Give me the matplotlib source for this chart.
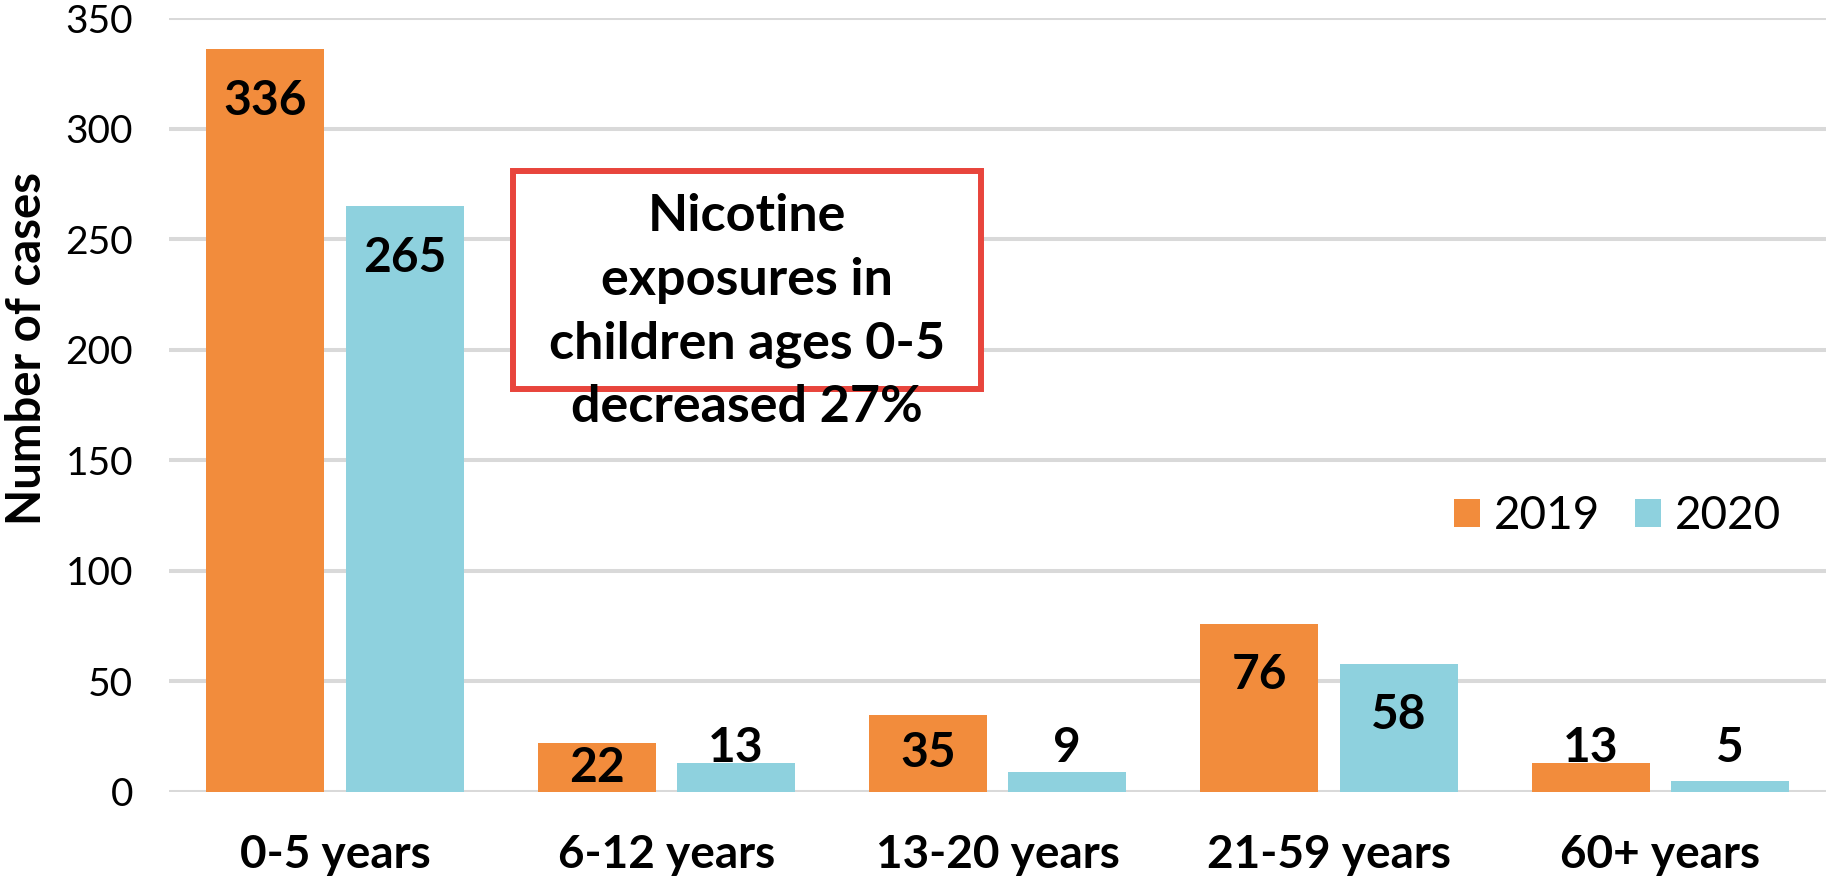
import matplotlib
matplotlib.use("Agg")
import matplotlib.pyplot as plt
from matplotlib.patches import Rectangle, Patch
import numpy as np

# Poison-center nicotine exposure cases by age group
categories = ["0-5 years", "6-12 years", "13-20 years", "21-59 years", "60+ years"]
cases_2019 = [336, 22, 35, 76, 13]
cases_2020 = [265, 13, 9, 58, 5]
series_names = ["2019", "2020"]
y_ticks = [0, 50, 100, 150, 200, 250, 300, 350]
callout_lines = ["Nicotine", "exposures in", "children ages 0-5", "decreased 27%"]

ORANGE = "#F28C3C"
BLUE = "#8ED1DE"
GRID = "#D9D9D9"
RED = "#E8453C"

plt.rcParams["font.family"] = ["Lato", "DejaVu Sans"]

fig = plt.figure(figsize=(18.26, 8.94), dpi=100)
ax = fig.add_axes([0.0927, 0.1141, 0.9073, 0.8654])

x = np.arange(len(categories))
width = 0.356
offset = 0.21
bars19 = ax.bar(x - offset, cases_2019, width, color=ORANGE, zorder=3)
bars20 = ax.bar(x + offset, cases_2020, width, color=BLUE, zorder=3)

ax.set_xlim(-0.5, len(categories) - 0.5)
ax.set_ylim(0, 350)
ax.set_yticks(y_ticks)
ax.yaxis.grid(True, color=GRID, linewidth=2.9, zorder=0)
ax.set_axisbelow(True)
for s in ax.spines.values():
    s.set_visible(False)
ax.tick_params(axis="y", length=0, pad=26, labelsize=28, labelcolor="black")
ax.set_xticks(x)
ax.set_xticklabels(categories, fontsize=33, fontweight="bold")
ax.tick_params(axis="x", length=0, pad=30)

ax.set_ylabel("Number of cases", fontsize=34, fontweight="bold", va="center")
ax.yaxis.set_label_coords(-0.086, 0.573)


def label_bars(bars, values):
    for b, v in zip(bars, values):
        cx = b.get_x() + b.get_width() / 2
        if v >= 50:
            ax.annotate(str(v), (cx, v), xytext=(0, -37), textcoords="offset points",
                        ha="center", va="center", fontsize=34.5, fontweight="bold", zorder=5)
        elif v >= 20:
            ax.text(cx, v / 2, str(v), ha="center", va="center",
                    fontsize=34.5, fontweight="bold", zorder=5)
        else:
            ax.annotate(str(v), (cx, max(v, 13)), xytext=(0, 1), textcoords="offset points",
                        ha="center", va="baseline", fontsize=34.5, fontweight="bold", zorder=5)


label_bars(bars19, cases_2019)
label_bars(bars20, cases_2020)

# Callout box; the last line of text runs below the frame
ax.add_patch(Rectangle((0.537, 182.3), 1.950 - 0.537, 280.9 - 182.3,
                       facecolor="white", edgecolor=RED, linewidth=4.3,
                       zorder=4, clip_on=False))
line_step = 45.9  # points between baselines
for i, line in enumerate(callout_lines):
    ax.annotate(line, (1.244, 253.8), xytext=(0, -line_step * i), textcoords="offset points",
                ha="center", va="baseline", fontsize=37.5, fontweight="bold", zorder=6,
                annotation_clip=False)

handles = [Patch(facecolor=ORANGE), Patch(facecolor=BLUE)]
fig.legend(handles, series_names, loc="center", bbox_to_anchor=(0.8856, 0.4228),
           ncol=2, frameon=False, fontsize=33, handlelength=0.57, handleheight=0.57,
           handletextpad=0.3, columnspacing=0.76, borderpad=0)

fig.savefig("out.png", dpi=100)
